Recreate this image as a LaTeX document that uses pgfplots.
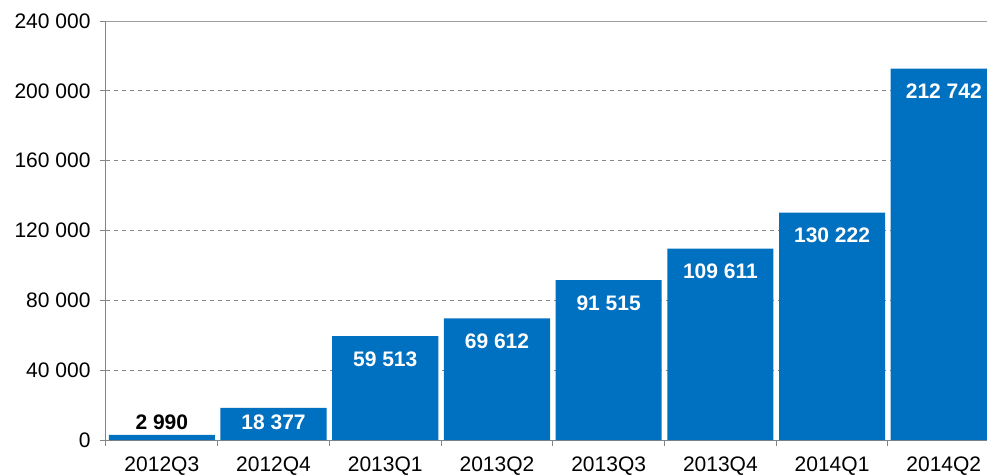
\documentclass[border=0pt]{standalone}
\usepackage{pgfplots}
\pgfplotsset{compat=1.18}
\usepackage{fontspec}
\setmainfont{Liberation Sans}
\definecolor{barblue}{RGB}{0,112,192}
\definecolor{axisgray}{RGB}{134,134,134}
\begin{document}
\begin{tikzpicture}[font=\fontsize{21}{25}\selectfont]
\useasboundingbox (-106pt,-35pt) rectangle (881pt,419pt+21pt);
\begin{axis}[
    at={(0,0)}, anchor=south west,
    scale only axis, width=881pt, height=419pt,
    xmin=-0.5, xmax=7.387,
    ymin=0, ymax=240000,
    axis lines*=left,
    axis line style={axisgray, line width=1pt},
    tick align=outside,
    xtick={0,...,7},
    xticklabels={2012Q3,2012Q4,2013Q1,2013Q2,2013Q3,2013Q4,2014Q1,2014Q2},
    major x tick style={draw=none},
    minor xtick={-0.5,0.5,...,6.5},
    minor x tick style={axisgray, line width=1pt},
    minor tick length=6pt,
    ytick={0,40000,...,200000},
    extra y ticks={240000},
    extra y tick style={grid style={solid, axisgray!80, line width=1pt}},
    ytick style={axisgray, line width=1pt},
    major tick length=6pt,
    ymajorgrids,
    grid style={dashed, axisgray, line width=1pt, dash pattern=on 4pt off 4pt},
    scaled ticks=false,
    /pgf/number format/.cd, assume math mode=true, fixed, precision=0, 1000 sep={\ },
    /pgfplots/.cd,
    yticklabel style={xshift=-6pt},
    xticklabel style={yshift=-7pt},
    nodes near coords style={font=\fontsize{21}{25}\selectfont\bfseries},
]
% bars
\addplot[ybar, bar width=0.95, bar shift=0pt, fill=barblue, draw=none] coordinates {
    (0,2990) (1,18377) (2,59513) (3,69612) (4,91515) (5,109611) (6,130222) (7,212742)
};
% labels inside the tall bars
\addplot[ybar, bar width=0.95, bar shift=0pt, draw=none, fill=none,
    nodes near coords, nodes near coords align=below,
    every node near coord/.append style={white, yshift=-12pt}] coordinates {
    (2,59513) (3,69612) (4,91515) (5,109611) (6,130222) (7,212742)
};
% short bar label
\addplot[ybar, bar width=0.95, bar shift=0pt, draw=none, fill=none,
    nodes near coords, nodes near coords align=below,
    every node near coord/.append style={white, yshift=-3pt}] coordinates {
    (1,18377)
};
% label above the first bar
\addplot[ybar, bar width=0.95, bar shift=0pt, draw=none, fill=none,
    nodes near coords, nodes near coords align=above,
    every node near coord/.append style={black, yshift=2pt}] coordinates {
    (0,2990)
};
\end{axis}
\end{tikzpicture}
\end{document}
